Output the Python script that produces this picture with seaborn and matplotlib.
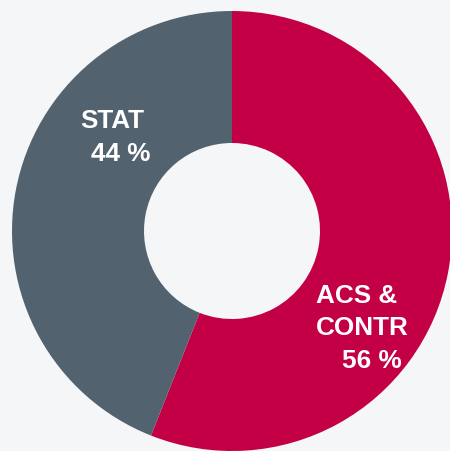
import matplotlib
matplotlib.use("Agg")
import matplotlib.pyplot as plt
import seaborn as sns

categories = ["ACS & CONTR", "STAT"]
values = [56, 44]
colors = ["#C30045", "#52626E"]

sns.set_theme(style="white")
plt.rcParams['font.family'] = ['Liberation Sans', 'DejaVu Sans']

W, H = 450, 452
fig = plt.figure(figsize=(W / 100, H / 100), dpi=100, facecolor="#F5F6F8")
ax = fig.add_axes([0, 0, 1, 1])
ax.set_facecolor("#F5F6F8")

cx, cy, R = 232, 232, 220
ax.pie(values, colors=colors, startangle=90, counterclock=False, radius=1,
       wedgeprops=dict(width=0.6, edgecolor="none", linewidth=0))
ax.set_xlim(-cx / R, (W - cx) / R)
ax.set_ylim(-(H - cy) / R, cy / R)
ax.set_aspect("equal")
ax.axis("off")

def px(x, y):
    return ((x - cx) / R, (cy - y) / R)

def lab(x, y, s):
    ax.text(*px(x, y), s, color="white", fontsize=18.8, fontweight="bold",
            ha="left", va="baseline")

lab(80, 128, "STAT")
lab(91, 161, f"{values[1]} %")
lab(316, 303, "ACS &")
lab(316, 335, "CONTR")
lab(342, 368, f"{values[0]} %")

fig.savefig("out.png", dpi=100, facecolor=fig.get_facecolor())
